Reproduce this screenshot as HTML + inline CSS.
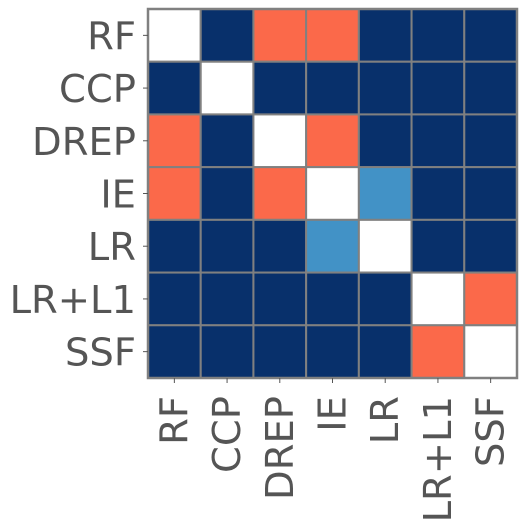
<!DOCTYPE html>
<html><head><meta charset="utf-8"><style>
html,body{margin:0;padding:0;background:#fff;width:527px;height:527px;overflow:hidden}
text{font-family:"DejaVu Sans","Liberation Sans",sans-serif;fill:#555;font-size:38.5px}
</style></head><body>
<svg id="chart" width="527" height="527" viewBox="0 0 527 527" xmlns="http://www.w3.org/2000/svg"></svg>
<script>
const rowLabels = ["RF","CCP","DREP","IE","LR","LR+L1","SSF"];
const colLabels = ["RF","CCP","DREP","IE","LR","LR+L1","SSF"];
// -1 = diagonal (white), 0 = dark navy, 1 = coral, 2 = light blue
const row0 = [-1,0,1,1,0,0,0];
const row1 = [0,-1,0,0,0,0,0];
const row2 = [1,0,-1,1,0,0,0];
const row3 = [1,0,1,-1,2,0,0];
const row4 = [0,0,0,2,-1,0,0];
const row5 = [0,0,0,0,0,-1,1];
const row6 = [0,0,0,0,0,1,-1];
const matrix = [row0,row1,row2,row3,row4,row5,row6];
const palette = {"-1":"#ffffff","0":"#08306b","1":"#fb694a","2":"#4292c6"};

const NS="http://www.w3.org/2000/svg";
const svg=document.getElementById('chart');
const x0=148,y0=9,x1=517,y1=378;
const cw=(x1-x0)/colLabels.length, ch=(y1-y0)/rowLabels.length;
const xs=i=>x0+i*cw, ys=j=>y0+j*ch;
function mk(t,a){const e=document.createElementNS(NS,t);for(const k in a)e.setAttribute(k,a[k]);svg.appendChild(e);return e;}
matrix.forEach((row,j)=>row.forEach((v,i)=>{
  const r=mk('rect',{x:xs(i),y:ys(j),width:cw,height:ch,fill:palette[v],stroke:'#808080','stroke-width':2});
  
  
}));
mk('rect',{x:x0,y:y0,width:x1-x0,height:y1-y0,fill:'none',stroke:'#808080','stroke-width':2.5});
rowLabels.forEach((l,j)=>{
  const cy=ys(j)+ch/2;
  mk('line',{x1:x0-5,y1:cy,x2:x0,y2:cy,stroke:'#555','stroke-width':1});
  const t=mk('text',{x:x0-12,y:cy+14,'text-anchor':'end'});
  t.textContent=l;
  
  
});
colLabels.forEach((l,i)=>{
  const cx=xs(i)+cw/2;
  mk('line',{x1:cx,y1:y1,x2:cx,y2:y1+5,stroke:'#555','stroke-width':1});
  const t=mk('text',{x:0,y:0,'text-anchor':'end',transform:`translate(${cx+13},${y1+18}) rotate(-90)`});
  t.textContent=l;
  
  
});
</script>
</body></html>
